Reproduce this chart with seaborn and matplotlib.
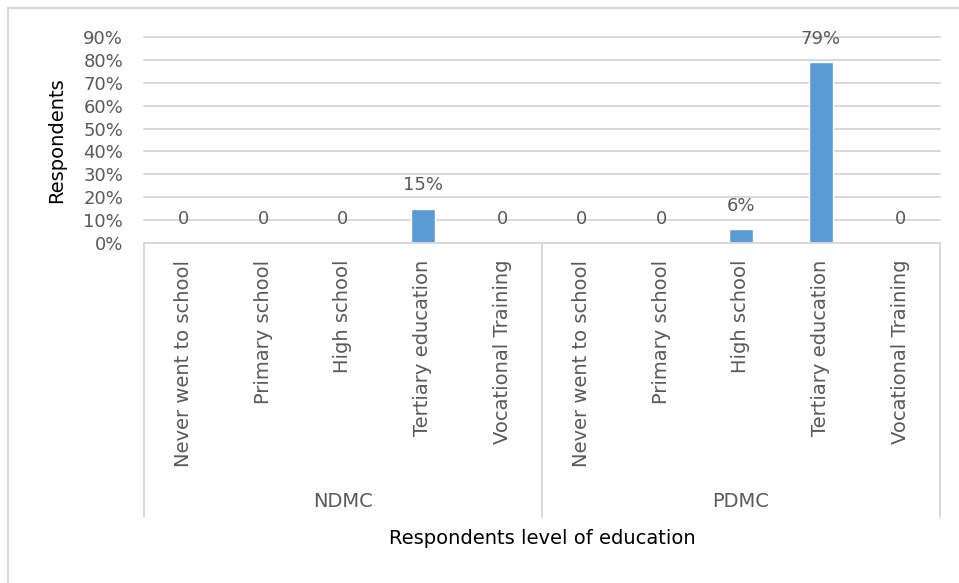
import pandas as pd
import seaborn as sns
import matplotlib.pyplot as plt
from matplotlib.patches import Rectangle
from matplotlib.ticker import PercentFormatter

# data
groups = ["NDMC", "PDMC"]
levels = ["Never went to school", "Primary school", "High school",
          "Tertiary education", "Vocational Training"]
ndmc_share = [0, 0, 0, 0.15, 0]
pdmc_share = [0, 0, 0.06, 0.79, 0]

df = pd.DataFrame({
    "group": [groups[0]] * 5 + [groups[1]] * 5,
    "level": levels + levels,
    "share": ndmc_share + pdmc_share,
})
df["key"] = df["group"] + "|" + df["level"]

sns.set_style("white")
plt.rcParams["font.family"] = ["DejaVu Sans"]

grey_txt = "#595959"
grid_col = "#D9D9D9"
bar_col = "#5B9BD5"

fig = plt.figure(figsize=(9.59, 5.83), dpi=100)
ax = fig.add_axes([144 / 959, 1 - 243 / 583, (940 - 144) / 959, (243 - 37) / 583])

sns.barplot(data=df, x="key", y="share", order=list(df["key"]), color=bar_col,
            width=0.30, saturation=1, ax=ax)

ax.set_xlim(-0.5, 9.5)
ax.set_ylim(0, 0.9)
ax.set_yticks([i / 10 for i in range(10)])
ax.yaxis.set_major_formatter(PercentFormatter(1.0, decimals=0))
ax.grid(axis="y", color=grid_col, lw=1.4)
ax.set_axisbelow(True)
for gl in ax.get_ygridlines():
    gl.set_clip_on(False)
for s in ["left", "right", "top"]:
    ax.spines[s].set_visible(False)
ax.spines["bottom"].set_color(grid_col)
ax.spines["bottom"].set_linewidth(1.4)

ax.tick_params(axis="y", length=0, pad=15, labelsize=13, labelcolor=grey_txt)
ax.tick_params(axis="x", length=0, pad=12, labelsize=14, labelcolor=grey_txt)
ax.set_xticks(range(len(df)))
ax.set_xticklabels(df["level"], rotation=90, va="top")

# data labels
for i, v in enumerate(df["share"]):
    lab = "0" if v == 0 else f"{v:.0%}"
    ax.annotate(lab, (i, v), xytext=(0, 17), textcoords="offset points",
                ha="center", va="center", fontsize=13, color=grey_txt)

# group separators and group labels
bot = -(517 - 243) / (243 - 37)
trans = ax.get_xaxis_transform()
for xs in [-0.5, 4.5, 9.5]:
    ax.plot([xs, xs], [0, bot], color=grid_col, lw=1.4, transform=trans, clip_on=False)
for gi, g in enumerate(groups):
    ax.text(gi * 5 + 2, -(502 - 243) / (243 - 37), g, transform=trans,
            ha="center", va="center", fontsize=14, color=grey_txt)

ax.set_xlabel("")
ax.set_ylabel("")
fig.text(542 / 959, 1 - 538 / 583, "Respondents level of education",
         ha="center", va="center", fontsize=14, color="black")
fig.text(57 / 959, 1 - 140 / 583, "Respondents", rotation=90,
         ha="center", va="center", fontsize=14, color="black")

# chart border (only top and left fall inside the crop)
fig.patches.append(Rectangle((8 / 959, -0.05), 1.1, 1 - 8 / 583 + 0.05,
                             transform=fig.transFigure, fill=False,
                             edgecolor=grid_col, lw=1.5))

fig.savefig("out.png", dpi=100)
